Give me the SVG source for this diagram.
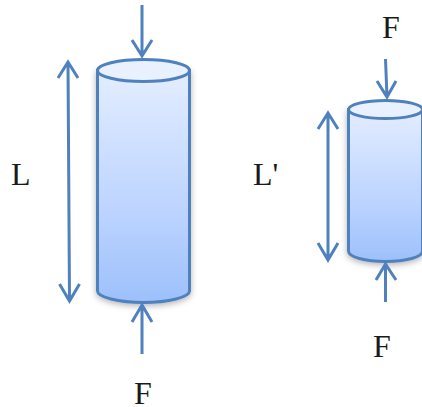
<svg xmlns="http://www.w3.org/2000/svg" width="422" height="407" viewBox="0 0 422 407">
<style>
.c{fill:url(#g);stroke:#4f81bd;stroke-width:3;filter:url(#s)}
.t{fill:#e9f1ff;stroke:#4f81bd;stroke-width:3}
.a{fill:none;stroke:#4f81bd;stroke-width:3}
text{font-family:"Liberation Serif",serif;font-size:32px;fill:#1a1a1a}
</style>
<defs>
<linearGradient id="g" x1="0" y1="0" x2="0" y2="1">
<stop offset="0" stop-color="#e3edff"/><stop offset="0.6" stop-color="#bdd4ff"/><stop offset="1" stop-color="#9dc0fb"/>
</linearGradient>
<filter id="s" x="-20%" y="-10%" width="140%" height="125%"><feDropShadow dx="0" dy="2" stdDeviation="3" flood-color="#000" flood-opacity="0.3"/></filter>
</defs>
<g id="cylinder-long">
<path class="c" d="M97.500 70.500V291C97.500 297 118 302.500 143.500 302.500S189.500 297 189.500 291V70.500Z"/>
<ellipse class="t" cx="143.500" cy="70.500" rx="46" ry="11"/>
</g>
<g id="cylinder-short">
<path class="c" d="M348.500 109.500V251C348.500 257 365 261.500 385.500 261.500S422.500 257 422.500 251V109.500Z"/>
<ellipse class="t" cx="385.500" cy="109.500" rx="37" ry="9"/>
</g>
<g id="connectors">
<path class="a" d="M142 5V56M132 40L142 56L152 40"/>
<path class="a" d="M142 354V305M132 322L142 305L152 322"/>
<path class="a" d="M68 62L69.500 301M58 78L68 62L78 78M59.500 284L69.500 301L79.500 284"/>
<path class="a" d="M328 113V260M318 129L328 113L338 129M318 243L328 260L338 243"/>
<path class="a" d="M385.500 59L387 97M377 81L387 97L396 81"/>
<path class="a" d="M385.500 302V264M376 280L385.500 264L396 280"/>
</g>
<g id="label-L"><text x="11" y="185">L</text></g>
<g id="label-L-prime"><text x="253" y="185">L'</text></g>
<g id="label-F-bottom-left"><text x="134" y="404">F</text></g>
<g id="label-F-top-right"><text x="382" y="38">F</text></g>
<g id="label-F-bottom-right"><text x="373" y="357">F</text></g>
</svg>
